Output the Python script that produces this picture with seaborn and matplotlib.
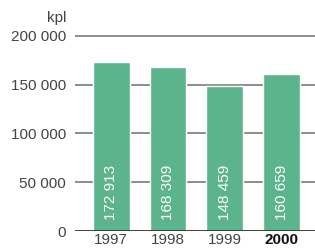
import matplotlib
matplotlib.use('Agg')
import matplotlib.pyplot as plt
import seaborn as sns
import pandas as pd

# Chart data
years = ['1997', '1998', '1999', '2000']
values = [172913, 168309, 148459, 160659]
value_labels = ['172 913', '168 309', '148 459', '160 659']
y_ticks = [0, 50000, 100000, 150000, 200000]
y_tick_labels = ['0', '50 000', '100 000', '150 000', '200 000']

sns.set_style('white')
plt.rcParams['font.family'] = ['Liberation Sans', 'DejaVu Sans']

df = pd.DataFrame({'year': years, 'value': values})

fig = plt.figure(figsize=(3.15, 2.48), dpi=100)
ax = fig.add_axes([0.238, 0.0685, 0.762, 0.7945])

# gridlines behind bars
for t in y_ticks[1:]:
    ax.axhline(t, color='#858585', lw=1.3, zorder=0)
ax.axhline(0, color='#333333', lw=1.3, zorder=3)

sns.barplot(data=df, x='year', y='value', color='#5cb48c', saturation=1,
            width=0.65, ax=ax, zorder=2)

for i, lab in enumerate(value_labels):
    ax.text(i, 11000, lab, rotation=90, ha='center', va='bottom',
            color='white', fontsize=11, zorder=4)

ax.set_xlim(-0.64, 3.59)
ax.set_ylim(0, 202000)
ax.set_yticks(y_ticks)
ax.set_yticklabels(y_tick_labels, fontsize=11, color='#444444')
ax.set_xticks(range(len(years)))
ax.set_xticklabels(years, fontsize=11, color='#444444')
ax.get_xticklabels()[-1].set_fontweight('bold')
ax.get_xticklabels()[-1].set_color('#111111')
ax.tick_params(axis='y', length=0, pad=6.5)
ax.tick_params(axis='x', length=0, pad=1.5)
ax.set_xlabel('')
ax.set_ylabel('')
for s in ax.spines.values():
    s.set_visible(False)

fig.text(66 / 315, 1 - 18 / 248, 'kpl', ha='right', va='center',
         fontsize=11, color='#444444')

fig.savefig('out.png', dpi=100)
